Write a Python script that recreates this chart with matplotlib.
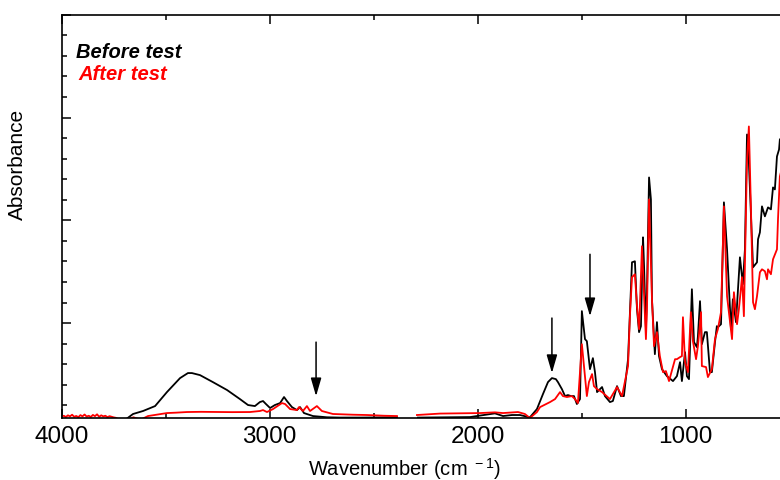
import matplotlib

matplotlib.use("Agg")
import matplotlib.pyplot as plt
import numpy as np
from matplotlib.ticker import MultipleLocator

plt.rcParams["font.family"] = ["Liberation Sans", "DejaVu Sans"]
plt.rcParams["mathtext.fontset"] = "custom"
plt.rcParams["mathtext.rm"] = "Liberation Sans"
plt.rcParams["mathtext.default"] = "regular"

nan = np.nan

# FTIR spectrum before the test (nan marks the cut CO2 region)
before_wn = [
    3696, 3657, 3609, 3551, 3494, 3431, 3393, 3374, 3335, 3273, 3205, 3143,
    3104, 3071, 3047, 3032, 3018, 2998, 2975, 2950, 2931, 2917, 2893, 2869,
    2854, 2835, 2792, 2725, 2662, 2566, 2388, 2340,
    2287, 2037, 1917, 1878, 1835, 1797, 1749, 1715, 1686, 1662, 1643, 1624,
    1614, 1595, 1580, 1566, 1551, 1537, 1523, 1508, 1499, 1484, 1475, 1460,
    1446, 1436, 1426, 1402, 1388, 1364, 1350, 1330, 1311, 1297, 1277, 1258,
    1244, 1234, 1224, 1215, 1205, 1200, 1191, 1186, 1176, 1167, 1162, 1148,
    1138, 1128, 1114, 1090, 1061, 1042, 1027, 1018, 1003, 994, 984, 970,
    960, 946, 941, 931, 922, 907, 898, 883, 874, 859, 850, 845, 830, 816,
    801, 782, 773, 758, 739, 725, 715, 705, 696, 681, 676, 657, 652, 643,
    633, 619, 604, 590, 580, 571, 561, 551, 547, 527,
]
before_abs = [
    0.058, 0.117, 0.146, 0.194, 0.330, 0.466, 0.515, 0.515, 0.495, 0.427,
    0.350, 0.262, 0.204, 0.194, 0.233, 0.243, 0.214, 0.175, 0.204, 0.223,
    0.282, 0.243, 0.184, 0.155, 0.184, 0.126, 0.097, 0.085, 0.082, 0.082,
    0.085, nan,
    0.082, 0.087, 0.123, 0.097, 0.107, 0.107, 0.084, 0.165, 0.311, 0.427,
    0.466, 0.456, 0.427, 0.359, 0.291, 0.301, 0.291, 0.291, 0.214, 0.262,
    1.117, 0.845, 0.825, 0.553, 0.660, 0.524, 0.330, 0.379, 0.291, 0.233,
    0.243, 0.388, 0.291, 0.291, 0.650, 1.592, 1.602, 1.136, 0.913, 0.971,
    1.835, 1.553, 0.942, 1.301, 2.417, 2.204, 1.233, 0.699, 1.010, 0.680,
    0.553, 0.485, 0.437, 0.485, 0.621, 0.437, 0.718, 0.485, 0.456, 1.330,
    0.816, 0.767, 0.874, 1.214, 0.796, 0.913, 0.913, 0.524, 0.524, 0.816,
    0.971, 0.961, 0.990, 2.175, 1.718, 0.942, 1.233, 1.010, 1.641, 1.379,
    1.718, 2.835, 2.563, 1.786, 1.544, 1.592, 1.816, 1.883, 2.136, 2.039,
    2.126, 2.107, 2.320, 2.301, 2.621, 2.689, 2.786, 2.835,
]

# FTIR spectrum after the test
after_wn = [
    4000, 3990, 3980, 3970, 3960, 3950, 3940, 3930, 3920, 3910, 3900, 3890,
    3880, 3870, 3860, 3850, 3840, 3830, 3820, 3810, 3800, 3790, 3780, 3770,
    3760, 3750, 3740, 3730, 3700, 3670, 3655, 3640, 3620, 3600, 3585, 3560,
    3530, 3494, 3450, 3398, 3330, 3253, 3180, 3095, 3047, 3032, 3013, 2984,
    2941, 2926, 2902, 2869, 2859, 2840, 2821, 2806, 2773, 2749, 2696, 2600,
    2532, 2450, 2388, 2340,
    2292, 2181, 1989, 1917, 1878, 1806, 1773, 1749, 1715, 1700, 1652, 1628,
    1604, 1590, 1571, 1547, 1532, 1518, 1499, 1489, 1475, 1465, 1450, 1441,
    1426, 1402, 1364, 1330, 1306, 1277, 1268, 1258, 1244, 1234, 1224, 1210,
    1191, 1186, 1176, 1162, 1152, 1138, 1124, 1109, 1095, 1080, 1051, 1042,
    1027, 1018, 1013, 1003, 989, 975, 965, 950, 941, 926, 922, 902, 893,
    874, 859, 845, 830, 816, 801, 777, 768, 753, 744, 729, 720, 705, 696,
    686, 676, 667, 657, 643, 633, 619, 609, 604, 590, 580, 561, 556, 547,
    527,
]
after_abs = [
    0.092, 0.100, 0.088, 0.104, 0.094, 0.110, 0.090, 0.098, 0.086, 0.106,
    0.094, 0.112, 0.092, 0.100, 0.088, 0.108, 0.096, 0.114, 0.090, 0.104,
    0.094, 0.100, 0.086, 0.096, 0.090, 0.084, 0.080, 0.070, 0.060, 0.072,
    0.085, 0.074, 0.062, 0.082, 0.097, 0.105, 0.115, 0.126, 0.130, 0.136,
    0.138, 0.136, 0.135, 0.136, 0.146, 0.155, 0.136, 0.165, 0.223, 0.214,
    0.165, 0.155, 0.184, 0.146, 0.194, 0.146, 0.194, 0.146, 0.117, 0.110,
    0.107, 0.100, 0.097, nan,
    0.107, 0.121, 0.126, 0.133, 0.126, 0.136, 0.117, 0.078, 0.136, 0.184,
    0.233, 0.262, 0.330, 0.291, 0.282, 0.291, 0.262, 0.223, 0.796, 0.583,
    0.291, 0.427, 0.505, 0.388, 0.359, 0.330, 0.262, 0.379, 0.291, 0.583,
    1.068, 1.447, 1.476, 1.165, 0.942, 1.748, 0.845, 1.136, 2.204, 1.233,
    0.777, 0.913, 0.680, 0.524, 0.534, 0.437, 0.650, 0.650, 0.670, 0.680,
    1.058, 0.621, 0.524, 1.107, 0.825, 0.650, 0.777, 1.107, 0.583, 0.573,
    0.476, 0.553, 0.845, 0.942, 1.107, 2.136, 1.262, 0.845, 1.301, 0.990,
    1.136, 1.447, 1.068, 2.592, 2.913, 2.107, 1.204, 1.136, 1.262, 1.495,
    1.524, 1.505, 1.427, 1.524, 1.476, 1.621, 1.718, 2.010, 2.427, 2.590,
]

# arrows pointing at the bands that change
arrow_wn = [2777, 1643, 1460]
arrow_tip = [0.29, 0.515, 1.068]
arrow_tail = [0.816, 1.05, 1.67]

fig = plt.figure(figsize=(7.8, 4.81), dpi=100)
# the axes run past the right edge of the figure on purpose
ax = fig.add_axes([0.0791, 0.1289, 0.9466, 0.8385])

ax.plot(before_wn, before_abs, color="black", lw=1.3)
ax.plot(after_wn, after_abs, color="#ff0000", lw=1.3)

for wn, tip, tail in zip(arrow_wn, arrow_tip, arrow_tail):
    ax.annotate(
        "",
        xy=(wn, tip),
        xytext=(wn, tail),
        arrowprops=dict(
            arrowstyle="-|>,head_length=1.1,head_width=0.32",
            color="black",
            lw=1.1,
            shrinkA=0,
            shrinkB=0,
        ),
    )

ax.set_xlim(4000, 450)
ax.set_ylim(0.078, 4.0)

ax.xaxis.set_major_locator(MultipleLocator(1000))
ax.xaxis.set_minor_locator(MultipleLocator(500))
ax.yaxis.set_major_locator(MultipleLocator(1))
ax.yaxis.set_minor_locator(MultipleLocator(0.2))
ax.tick_params(which="both", direction="in", top=True, right=True,
               labelleft=False, width=1.1)
ax.tick_params(which="major", length=6.5, labelsize=17.5, pad=5)
ax.tick_params(which="minor", length=3.5)
for spine in ax.spines.values():
    spine.set_linewidth(1.2)

ax.text(0.0194, 0.9075, "Before test", transform=ax.transAxes, color="black",
        fontsize=14.5, fontweight="bold", fontstyle="italic", va="center")
ax.text(0.022, 0.855, "After test", transform=ax.transAxes, color="#ff0000",
        fontsize=14.5, fontweight="bold", fontstyle="italic", va="center")

fig.text(0.518, 0.0104, r"Wavenumber (cm$^{\ -1}$)", ha="center",
         va="baseline", fontsize=14.5)
fig.text(0.023, 0.659, "Absorbance", rotation=90, ha="center", va="center",
         fontsize=15)

fig.savefig("out.png", dpi=100)
